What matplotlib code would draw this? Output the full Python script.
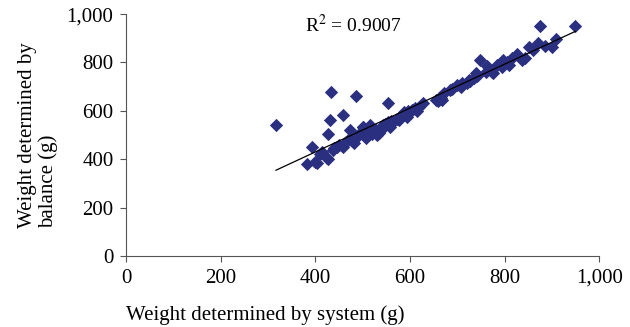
import numpy as np
import matplotlib
matplotlib.use("Agg")
import matplotlib.pyplot as plt
from matplotlib.ticker import FuncFormatter

# weight from the vision system (g)
system_w = [
  317, 382, 393, 399, 403, 424, 427, 427, 432, 437, 451, 458, 458, 465, 473, 481,
  486, 487, 500, 500, 508, 508, 515, 529, 530, 538, 542, 543, 553, 554, 557, 578,
  584, 593, 599, 605, 620, 627, 664, 665, 668, 673, 684, 707, 711, 726, 728, 740,
  742, 749, 762, 773, 776, 795, 797, 810, 815, 827, 837, 844, 852, 871, 875, 900,
  909, 950, 433,
  410, 415, 440, 445, 470, 478, 492, 495, 520, 525, 535, 548, 560, 565, 572, 588,
  596, 610, 615, 655, 660, 690, 700, 720, 735, 760, 785, 805, 860, 885,
]
# weight from the balance (g)
balance_w = [
  541, 380, 450, 388, 385, 404, 505, 400, 563, 438, 459, 584, 451, 472, 521, 467,
  661, 493, 533, 535, 488, 509, 542, 521, 501, 521, 535, 542, 555, 632, 534, 563,
  577, 576, 590, 605, 617, 634, 659, 654, 646, 675, 688, 700, 716, 729, 722, 758,
  743, 810, 784, 762, 758, 783, 812, 791, 820, 835, 812, 819, 862, 882, 950, 862,
  899, 950, 678,
  420, 430, 445, 450, 480, 475, 500, 510, 505, 515, 510, 545, 560, 555, 565, 595,
  600, 610, 600, 645, 640, 690, 705, 715, 735, 760, 790, 800, 850, 870,
]
r2_text = "R$^2$ = 0.9007"
x_ticks = [0, 200, 400, 600, 800, 1000]
y_ticks = [0, 200, 400, 600, 800, 1000]

plt.rcParams['font.family'] = ['Liberation Serif', 'DejaVu Serif']
plt.rcParams['mathtext.fontset'] = 'stix'

fig = plt.figure(figsize=(6.3, 3.27), dpi=100)
ax = fig.add_axes([0.2, 0.217, 0.751, 0.74])

x = np.array(system_w, dtype=float)
y = np.array(balance_w, dtype=float)

ax.scatter(x, y, marker='D', s=46, color='#2B2F80', linewidths=0, zorder=2)

# linear trend line
k, b = np.polyfit(x, y, 1)
xl = np.array([x.min(), x.max()])
ax.plot(xl, k * xl + b, color='black', lw=0.9, zorder=3)

ax.text(378, 955, r2_text, fontsize=14, va='center', ha='left')

ax.set_xlim(0, 1000)
ax.set_ylim(0, 1000)
ax.set_xticks(x_ticks)
ax.set_yticks(y_ticks)
fmt = FuncFormatter(lambda v, p: f"{int(v):,}")
ax.xaxis.set_major_formatter(fmt)
ax.yaxis.set_major_formatter(fmt)
ax.tick_params(direction='out', length=4, width=0.8, color='#555555', labelsize=15, pad=5)

ax.spines['top'].set_visible(False)
ax.spines['right'].set_visible(False)
ax.spines['left'].set_color('#555555')
ax.spines['bottom'].set_color('#555555')

ax.set_xlabel("Weight determined by system (g)", fontsize=15, loc='left', labelpad=13)
ax.set_ylabel("Weight determined by\nbalance (g)", fontsize=15, labelpad=6,
              linespacing=1.1, multialignment='left')

fig.savefig("out.png", dpi=100)
